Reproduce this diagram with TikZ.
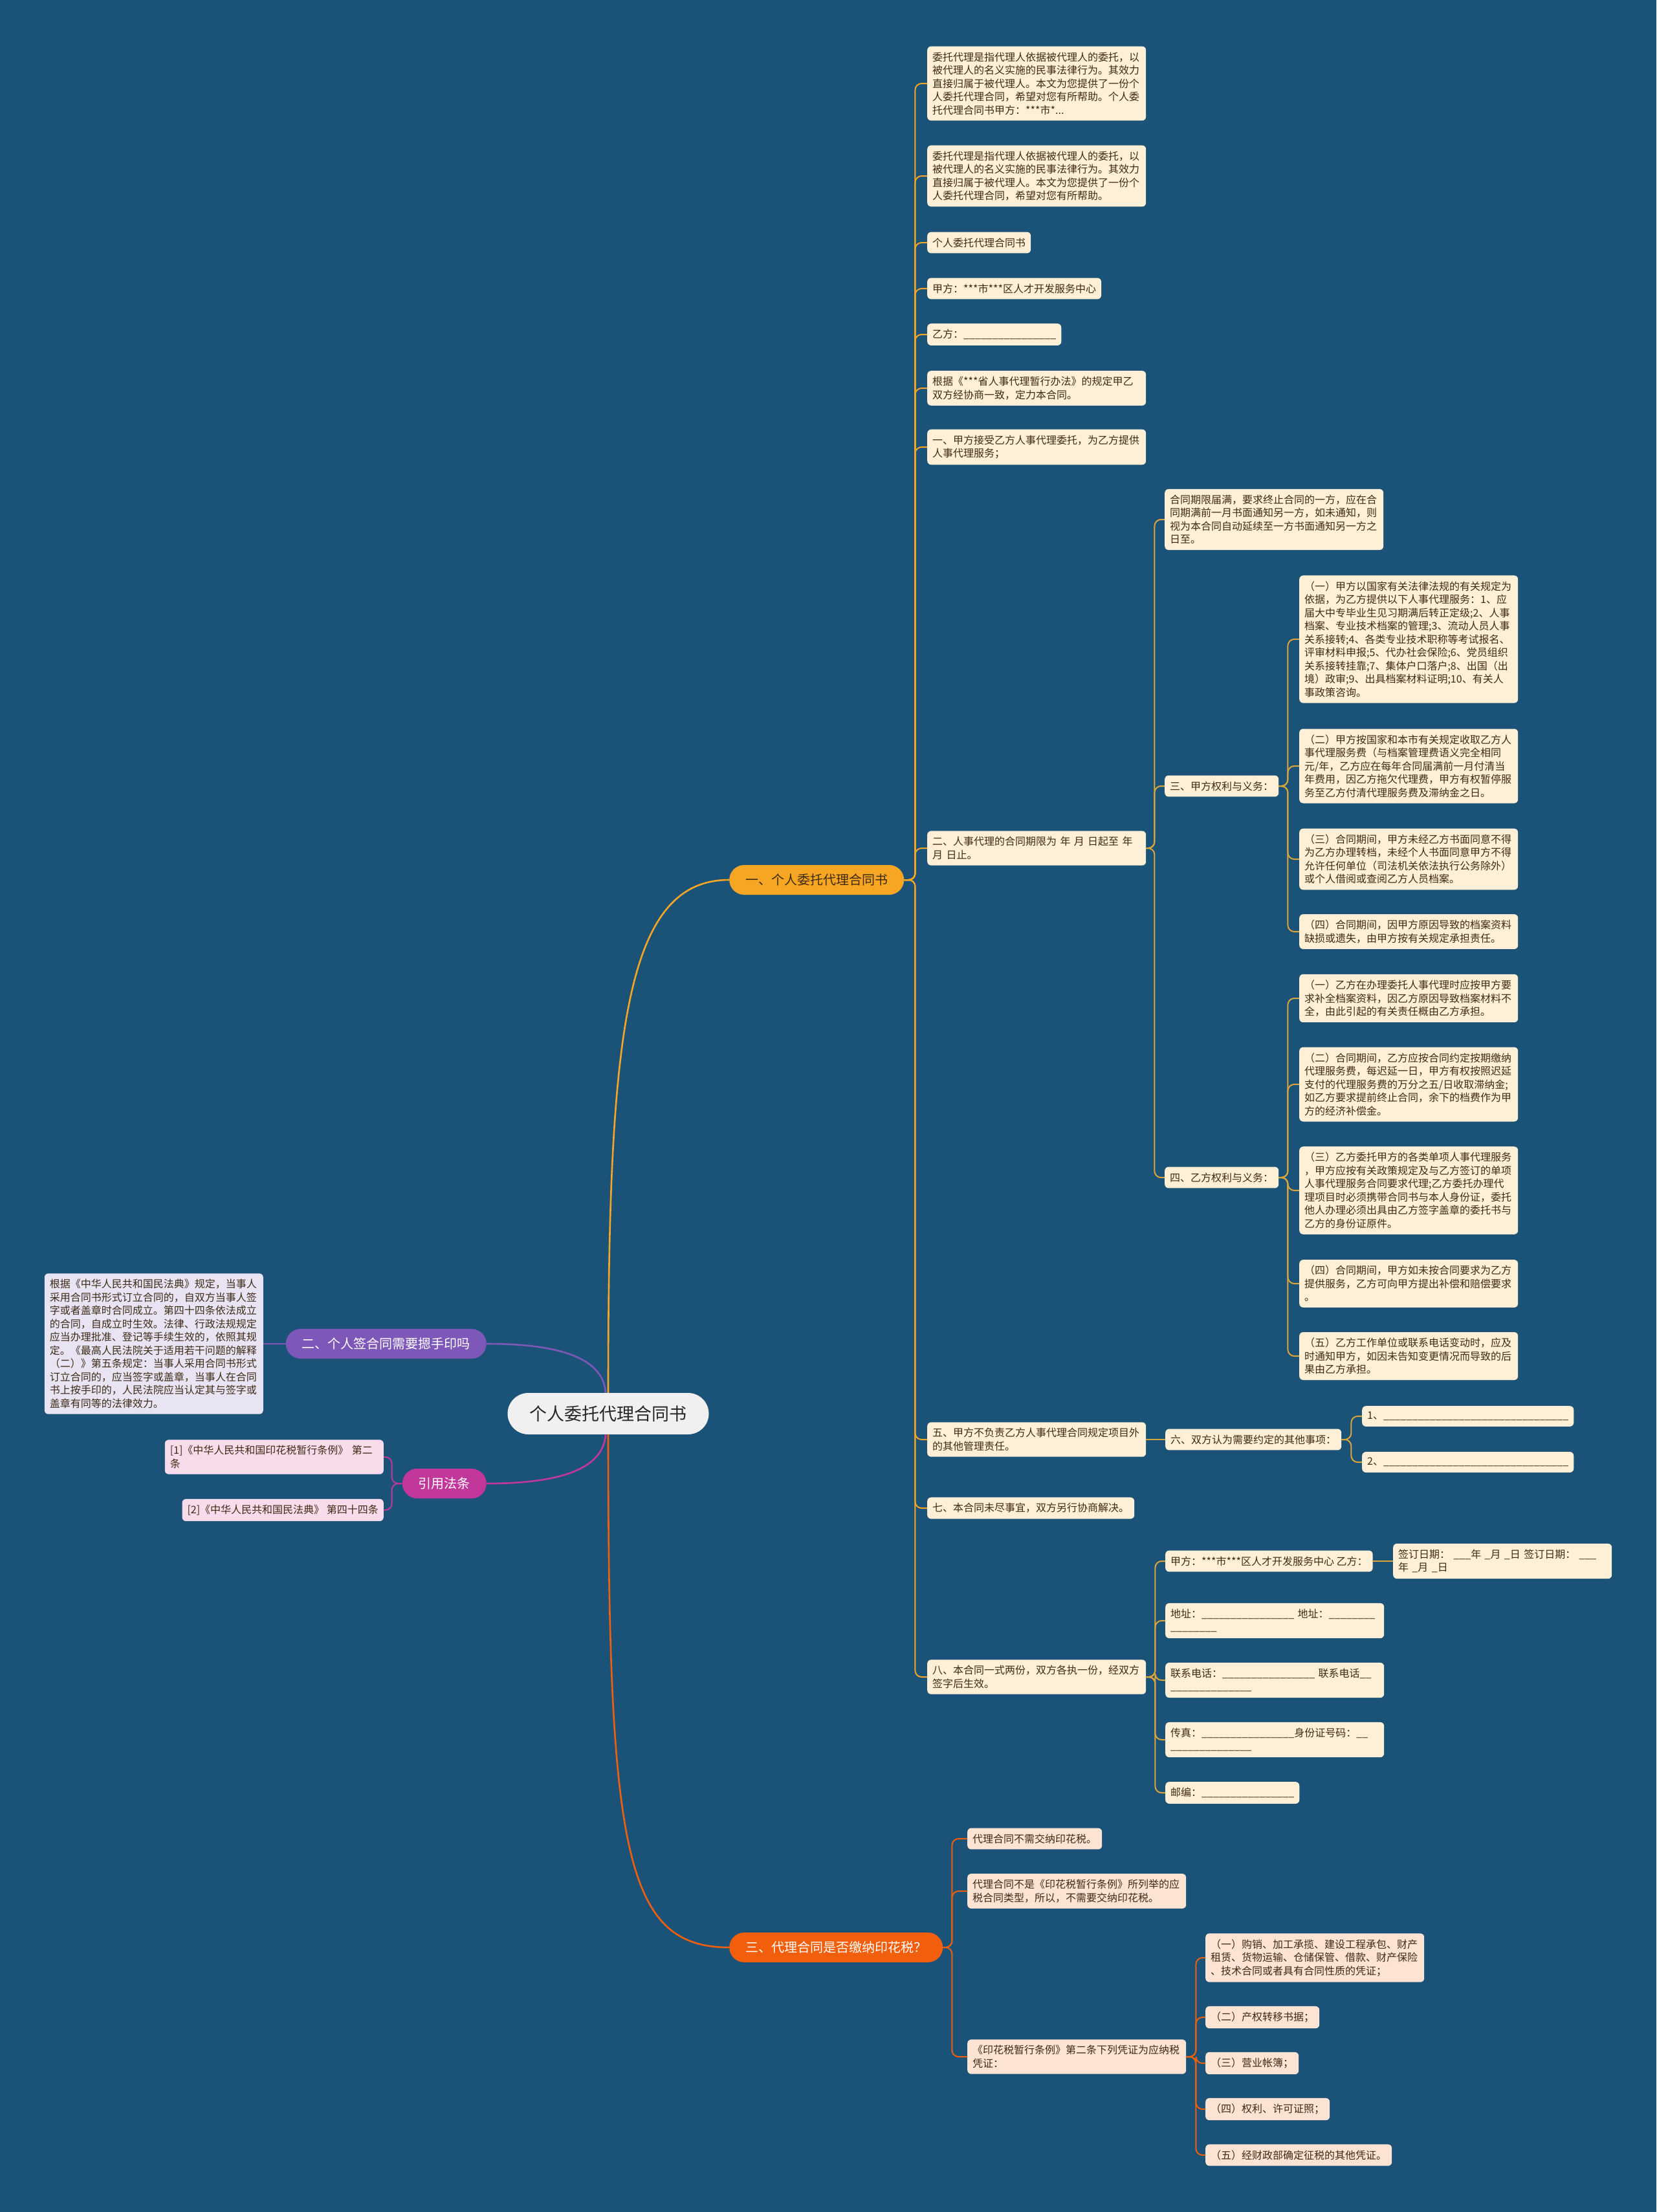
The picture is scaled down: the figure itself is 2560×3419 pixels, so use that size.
\documentclass[tikz,border=0pt]{standalone}
\usepackage{fontspec}
\setmainfont{Noto Sans CJK SC}
\usepackage{tikz}
\usetikzlibrary{positioning}

\definecolor{bgblue}{HTML}{1A5377}
\definecolor{gold}{HTML}{F6A623}
\definecolor{goldline}{HTML}{DCA53C}
\definecolor{cream}{HTML}{FDF0D6}
\definecolor{ink}{HTML}{3D2B14}
\definecolor{lilac}{HTML}{7E58B8}
\definecolor{lilacbg}{HTML}{E8E4F4}
\definecolor{plum}{HTML}{C2389A}
\definecolor{plumbg}{HTML}{F8DCEB}
\definecolor{tangerine}{HTML}{F25F0C}
\definecolor{peach}{HTML}{FDE3D3}
\definecolor{rootgray}{HTML}{F0F0F0}

\newcommand{\leafsize}{\fontsize{16}{20.5}\selectfont}
\newcommand{\pillsize}{\fontsize{20}{24}\selectfont}
\newcommand{\fillin}[1]{\foreach \k in {1,...,#1}{\_}}

\begin{document}
\begin{tikzpicture}[
        x=1pt, y=-1pt,
        leaf/.style={rounded corners=6pt, align=left, inner xsep=8pt, inner ysep=9pt,
            font=\leafsize, text=ink, fill=cream, anchor=west},
        para/.style={text width=322pt},
        pill/.style={rounded corners=23pt, minimum height=46pt, inner xsep=25pt,
            font=\pillsize, text=white, anchor=west},
        root/.style={rounded corners=32pt, minimum height=64pt, inner xsep=34pt,
            fill=rootgray, text=black!85, font=\fontsize{27}{32}\selectfont},
        link/.style={rounded corners=10pt, line width=2pt},
        trunk/.style={line width=2.6pt},
    ]
        \useasboundingbox (0,0) rectangle (2560,3419);
        \fill[bgblue] (0,0) rectangle (2560,3419);

        % centre
        \node[root] (root) at (940,2185) {个人委托代理合同书};

        % branch one
        \node[pill, fill=gold, text=ink] (b1) at (1127,1360) {一、个人委托代理合同书};
        \node[leaf, para] (c1) at (1433,129) {委托代理是指代理人依据被代理人的委托，以\\被代理人的名义实施的民事法律行为。其效力\\直接归属于被代理人。本文为您提供了一份个\\人委托代理合同，希望对您有所帮助。个人委\\托代理合同书甲方：***市*...};
        \node[leaf, para] (c2) at (1433,272) {委托代理是指代理人依据被代理人的委托，以\\被代理人的名义实施的民事法律行为。其效力\\直接归属于被代理人。本文为您提供了一份个\\人委托代理合同，希望对您有所帮助。};
        \node[leaf] (c3) at (1433,375) {个人委托代理合同书};
        \node[leaf] (c4) at (1433,446) {甲方：***市***区人才开发服务中心};
        \node[leaf] (c5) at (1433,517) {乙方：\fillin{16}};
        \node[leaf, para] (c6) at (1433,600) {根据《***省人事代理暂行办法》的规定甲乙\\双方经协商一致，定力本合同。};
        \node[leaf, para] (c7) at (1433,691) {一、甲方接受乙方人事代理委托，为乙方提供\\人事代理服务；};
        \node[leaf, para] (c8) at (1433,1311) {二、人事代理的合同期限为 年 月 日起至 年\\月 日止。};
        \node[leaf, para] (c9) at (1433,2225) {五、甲方不负责乙方人事代理合同规定项目外\\的其他管理责任。};
        \node[leaf] (c10) at (1433,2331) {七、本合同未尽事宜，双方另行协商解决。};
        \node[leaf, para] (c11) at (1433,2592) {八、本合同一式两份，双方各执一份，经双方\\签字后生效。};
        \foreach \c in {c1,c2,c3,c4,c5,c6,c7,c8,c9,c10,c11}
            \draw[link, gold] (b1.east) -- ++(17,0) |- (\c.west);

        % term of the contract
        \node[leaf, para] (d1) at (1800,803) {合同期限届满，要求终止合同的一方，应在合\\同期满前一月书面通知另一方，如未通知，则\\视为本合同自动延续至一方书面通知另一方之\\日至。};
        \node[leaf] (p3) at (1800,1215) {三、甲方权利与义务：};
        \node[leaf] (p4) at (1800,1820) {四、乙方权利与义务：};
        \foreach \c in {d1,p3,p4}
            \draw[link, goldline] (c8.east) -- ++(13,0) |- (\c.west);

        \node[leaf, para] (e1) at (2008,988) {（一）甲方以国家有关法律法规的有关规定为\\依据，为乙方提供以下人事代理服务：1、应\\届大中专毕业生见习期满后转正定级;2、人事\\档案、专业技术档案的管理;3、流动人员人事\\关系接转;4、各类专业技术职称等考试报名、\\评审材料申报;5、代办社会保险;6、党员组织\\关系接转挂靠;7、集体户口落户;8、出国（出\\境）政审;9、出具档案材料证明;10、有关人\\事政策咨询。};
        \node[leaf, para] (e2) at (2008,1184) {（二）甲方按国家和本市有关规定收取乙方人\\事代理服务费（与档案管理费语义完全相同\\元/年，乙方应在每年合同届满前一月付清当\\年费用，因乙方拖欠代理费，甲方有权暂停服\\务至乙方付清代理服务费及滞纳金之日。};
        \node[leaf, para] (e3) at (2008,1328) {（三）合同期间，甲方未经乙方书面同意不得\\为乙方办理转档，未经个人书面同意甲方不得\\允许任何单位（司法机关依法执行公务除外）\\或个人借阅或查阅乙方人员档案。};
        \node[leaf, para] (e4) at (2008,1440) {（四）合同期间，因甲方原因导致的档案资料\\缺损或遗失，由甲方按有关规定承担责任。};
        \foreach \c in {e1,e2,e3,e4}
            \draw[link, goldline] (p3.east) -- ++(14,0) |- (\c.west);

        \node[leaf, para] (f1) at (2008,1543) {（一）乙方在办理委托人事代理时应按甲方要\\求补全档案资料，因乙方原因导致档案材料不\\全，由此引起的有关责任概由乙方承担。};
        \node[leaf, para] (f2) at (2008,1676) {（二）合同期间，乙方应按合同约定按期缴纳\\代理服务费，每迟延一日，甲方有权按照迟延\\支付的代理服务费的万分之五/日收取滞纳金;\\如乙方要求提前终止合同，余下的档费作为甲\\方的经济补偿金。};
        \node[leaf, para] (f3) at (2008,1840) {（三）乙方委托甲方的各类单项人事代理服务\\，甲方应按有关政策规定及与乙方签订的单项\\人事代理服务合同要求代理;乙方委托办理代\\理项目时必须携带合同书与本人身份证，委托\\他人办理必须出具由乙方签字盖章的委托书与\\乙方的身份证原件。};
        \node[leaf, para] (f4) at (2008,1984) {（四）合同期间，甲方如未按合同要求为乙方\\提供服务，乙方可向甲方提出补偿和赔偿要求\\。};
        \node[leaf, para] (f5) at (2008,2096) {（五）乙方工作单位或联系电话变动时，应及\\时通知甲方，如因未告知变更情况而导致的后\\果由乙方承担。};
        \foreach \c in {f1,f2,f3,f4,f5}
            \draw[link, goldline] (p4.east) -- ++(14,0) |- (\c.west);

        % other matters
        \node[leaf] (q6) at (1801,2225) {六、双方认为需要约定的其他事项：};
        \draw[link, goldline] (c9.east) -- (q6.west);
        \node[leaf] (q1) at (2105,2189) {1、\fillin{32}};
        \node[leaf] (q2) at (2105,2260) {2、\fillin{32}};
        \foreach \c in {q1,q2}
            \draw[link, goldline] (q6.east) -- ++(15,0) |- (\c.west);

        % signatures
        \node[leaf] (g1) at (1801,2413) {甲方：***市***区人才开发服务中心 乙方：};
        \node[leaf, para] (gs) at (2153,2413) {签订日期：~\fillin{3}年~\fillin{1}月~\fillin{1}日~签订日期：~\fillin{3}\\年~\fillin{1}月~\fillin{1}日};
        \draw[link, goldline] (g1.east) -- (gs.west);
        \node[leaf, para] (g2) at (1801,2505) {地址：\fillin{16}~地址：\fillin{8}\\\fillin{8}};
        \node[leaf, para] (g3) at (1801,2597) {联系电话：\fillin{16}~联系电话\fillin{2}\\\fillin{14}};
        \node[leaf, para] (g4) at (1801,2689) {传真：\fillin{16}身份证号码：\fillin{2}\\\fillin{14}};
        \node[leaf] (g5) at (1801,2771) {邮编：\fillin{16}};
        \foreach \c in {g1,g2,g3,g4,g5}
            \draw[link, goldline] (c11.east) -- ++(14,0) |- (\c.west);

        % branch two
        \node[pill, fill=lilac, anchor=east] (b2) at (752,2077) {二、个人签合同需要摁手印吗};
        \node[leaf, para, fill=lilacbg, anchor=east] (t2) at (407,2077) {根据《中华人民共和国民法典》规定，当事人\\采用合同书形式订立合同的，自双方当事人签\\字或者盖章时合同成立。第四十四条依法成立\\的合同，自成立时生效。法律、行政法规规定\\应当办理批准、登记等手续生效的，依照其规\\定。《最高人民法院关于适用若干问题的解释\\（二）》第五条规定：当事人采用合同书形式\\订立合同的，应当签字或盖章，当事人在合同\\书上按手印的，人民法院应当认定其与签字或\\盖章有同等的法律效力。};
        \draw[link, lilac] (b2.west) -- (t2.east);

        % cited articles
        \node[pill, fill=plum, anchor=east] (b3) at (752,2293) {引用法条};
        \node[leaf, para, fill=plumbg, anchor=east] (r1) at (593,2252) {[1]《中华人民共和国印花税暂行条例》 第二\\条};
        \node[leaf, fill=plumbg, anchor=east] (r2) at (593,2334) {[2]《中华人民共和国民法典》 第四十四条};
        \foreach \c in {r1,r2}
            \draw[link, plum] (b3.west) -- ++(-16,0) |- (\c.east);

        % branch three: stamp duty
        \node[pill, fill=tangerine] (b4) at (1127,3010) {三、代理合同是否缴纳印花税？};
        \node[leaf, fill=peach] (h1) at (1495,2842) {代理合同不需交纳印花税。};
        \node[leaf, para, fill=peach] (h2) at (1495,2923) {代理合同不是《印花税暂行条例》所列举的应\\税合同类型，所以，不需要交纳印花税。};
        \node[leaf, para, fill=peach] (h3) at (1495,3179) {《印花税暂行条例》第二条下列凭证为应纳税\\凭证：};
        \foreach \c in {h1,h2,h3}
            \draw[link, tangerine] (b4.east) -- ++(14,0) |- (\c.west);
        \node[leaf, para, fill=peach] (i1) at (1863,3026) {（一）购销、加工承揽、建设工程承包、财产\\租赁、货物运输、仓储保管、借款、财产保险\\、技术合同或者具有合同性质的凭证；};
        \node[leaf, fill=peach] (i2) at (1863,3118) {（二）产权转移书据；};
        \node[leaf, fill=peach] (i3) at (1863,3189) {（三）营业帐簿；};
        \node[leaf, fill=peach] (i4) at (1863,3260) {（四）权利、许可证照；};
        \node[leaf, fill=peach] (i5) at (1863,3331) {（五）经财政部确定征税的其他凭证。};
        \foreach \c in {i1,i2,i3,i4,i5}
            \draw[link, tangerine] (h3.east) -- ++(15,0) |- (\c.west);

        % from the centre out
        \draw[trunk, gold] (root.north) .. controls (940,1600) and (965,1360) .. (b1.west);
        \draw[trunk, tangerine] (root.south) .. controls (940,2860) and (965,3010) .. (b4.west);
        \draw[trunk, lilac] ([xshift=-4pt]root.north) .. controls (932,2090) and (840,2077) .. (b2.east);
        \draw[trunk, plum] ([xshift=-4pt]root.south) .. controls (932,2280) and (840,2293) .. (b3.east);
    \end{tikzpicture}
\end{document}
